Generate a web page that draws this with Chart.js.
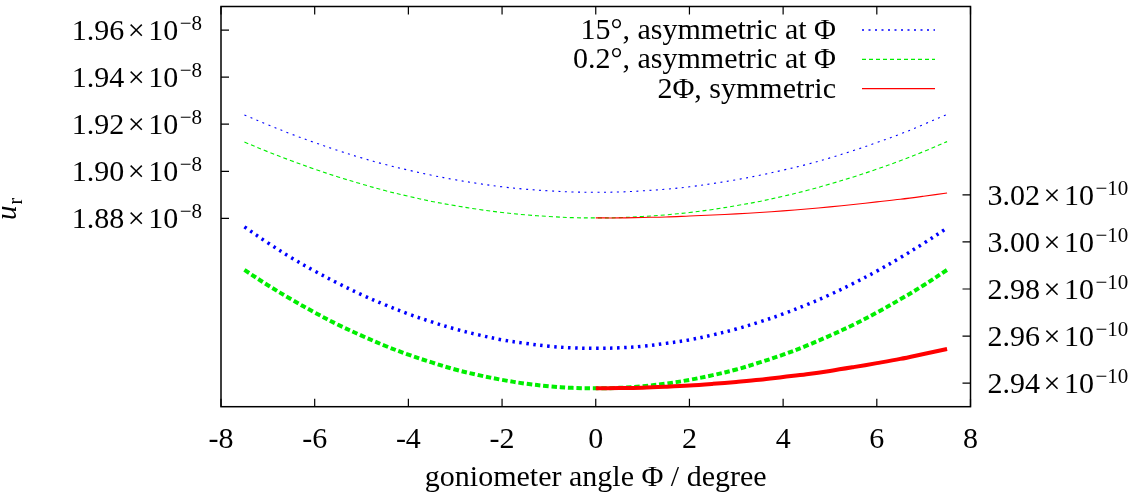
<!DOCTYPE html>
<html>
<head>
<meta charset="utf-8">
<script src="https://cdn.jsdelivr.net/npm/chart.js@4.4.1/dist/chart.umd.min.js"></script>
<style>
  html, body { margin: 0; padding: 0; background: #ffffff; }
  #wrap { width: 1141px; height: 495px; position: relative; }
</style>
</head>
<body>
<div id="wrap"><canvas id="c"></canvas></div>
<script>
// Goniometer angle in degrees
const angles = [-7.5, -7, -6.5, -6, -5.5, -5, -4.5, -4, -3.5, -3, -2.5, -2, -1.5, -1, -0.5, 0,
                0.5, 1, 1.5, 2, 2.5, 3, 3.5, 4, 4.5, 5, 5.5, 6, 6.5, 7, 7.5];
const anglesHalf = [0, 0.5, 1, 1.5, 2, 2.5, 3, 3.5, 4, 4.5, 5, 5.5, 6, 6.5, 7, 7.5];

// Upper family, left axis, values in units of 1e-8
const asym15Upper = [1.9239, 1.9198, 1.9158, 1.9122, 1.9088, 1.9057, 1.9029, 1.9005, 1.8983, 1.8964, 1.8948, 1.8934, 1.8924, 1.8917, 1.8912, 1.8911,
                     1.8912, 1.8917, 1.8924, 1.8934, 1.8948, 1.8964, 1.8983, 1.9005, 1.9029, 1.9057, 1.9088, 1.9122, 1.9158, 1.9199, 1.9242];
const asym02Upper = [1.9124, 1.9083, 1.9045, 1.9009, 1.8976, 1.8946, 1.8918, 1.8894, 1.8872, 1.8854, 1.8838, 1.8825, 1.8815, 1.8808, 1.8803, 1.8802,
                     1.8803, 1.8808, 1.8815, 1.8825, 1.8838, 1.8854, 1.8872, 1.8894, 1.8918, 1.8946, 1.8976, 1.9009, 1.9045, 1.9084, 1.9126];
const sym2PhiUpper = [1.8802, 1.8802, 1.8804, 1.8806, 1.8810, 1.8814, 1.8819, 1.8825, 1.8832, 1.8840, 1.8849, 1.8859, 1.8870, 1.8881, 1.8894, 1.8908];

// Lower family, right axis, values in units of 1e-10
const asym15Lower = [3.0064, 2.9996, 2.9933, 2.9876, 2.9824, 2.9776, 2.9733, 2.9694, 2.9660, 2.9630, 2.9605, 2.9584, 2.9569, 2.9557, 2.9550, 2.9548,
                     2.9550, 2.9557, 2.9569, 2.9584, 2.9605, 2.9630, 2.9660, 2.9694, 2.9733, 2.9776, 2.9824, 2.9876, 2.9933, 2.9994, 3.0059];
const asym02Lower = [2.9881, 2.9816, 2.9756, 2.9700, 2.9648, 2.9602, 2.9559, 2.9521, 2.9488, 2.9458, 2.9434, 2.9414, 2.9398, 2.9387, 2.9380, 2.9378,
                     2.9380, 2.9387, 2.9398, 2.9414, 2.9434, 2.9458, 2.9488, 2.9521, 2.9559, 2.9602, 2.9648, 2.9700, 2.9756, 2.9816, 2.9881];
const sym2PhiLower = [2.9378, 2.9379, 2.9381, 2.9385, 2.9390, 2.9397, 2.9405, 2.9414, 2.9426, 2.9438, 2.9452, 2.9468, 2.9485, 2.9503, 2.9524, 2.9545];

// Axis ticks
const xTicks = [-8, -6, -4, -2, 0, 2, 4, 6, 8];
const leftTicks = [1.88, 1.90, 1.92, 1.94, 1.96];
const rightTicks = [2.94, 2.96, 2.98, 3.00, 3.02];
const leftExponent = '−8';
const rightExponent = '−10';

const seriesNames = ['15°, asymmetric at Φ', '0.2°, asymmetric at Φ', '2Φ, symmetric'];
const xTitle = 'goniometer angle Φ / degree';

const SERIF = '"Liberation Serif", "DejaVu Serif", serif';
const FS = 30;
const BLUE = '#0000ff', GREEN = '#00ee00', RED = '#ff0000';

function pts(xs, ys) { return xs.map((x, i) => ({ x: x, y: ys[i] })); }

const datasets = [
  { label: seriesNames[2], data: pts(anglesHalf, sym2PhiUpper), yAxisID: 'yL', borderColor: RED, borderWidth: 1.1, key: true },
  { label: seriesNames[1], data: pts(angles, asym02Upper), yAxisID: 'yL', borderColor: GREEN, borderWidth: 1.1, borderDash: [4, 3], key: true },
  { label: seriesNames[0], data: pts(angles, asym15Upper), yAxisID: 'yL', borderColor: BLUE, borderWidth: 1.1, borderDash: [2, 4.5], key: true },
  { label: seriesNames[2], data: pts(anglesHalf, sym2PhiLower), yAxisID: 'yR', borderColor: RED, borderWidth: 4 },
  { label: seriesNames[1], data: pts(angles, asym02Lower), yAxisID: 'yR', borderColor: GREEN, borderWidth: 4, borderDash: [5.5, 2.8] },
  { label: seriesNames[0], data: pts(angles, asym15Lower), yAxisID: 'yR', borderColor: BLUE, borderWidth: 3.5, borderDash: [2.5, 4.5] }
].map(d => Object.assign({ pointRadius: 0, fill: false, tension: 0.35, borderCapStyle: 'butt' }, d));

// Scientific label: mantissa × 10^exp with a raised exponent
function drawSci(ctx, mant, exp, x, y, align) {
  const main = FS + 'px ' + SERIF, sup = '21px ' + SERIF;
  ctx.font = main;
  const wm = ctx.measureText(mant).width;
  const wx = ctx.measureText('×').width;
  const wt = ctx.measureText('10').width;
  ctx.font = sup;
  const we = ctx.measureText(exp).width;
  const gap = 3.5;
  const total = wm + gap + wx + gap + wt + 1.5 + we;
  let sx = align === 'right' ? x - total : x;
  const base = y + 10;
  ctx.textAlign = 'left';
  ctx.textBaseline = 'alphabetic';
  ctx.font = main;
  ctx.fillText(mant, sx, base); sx += wm + gap;
  ctx.fillText('×', sx, base); sx += wx + gap;
  ctx.fillText('10', sx, base); sx += wt + 1.5;
  ctx.font = sup;
  ctx.fillText(exp, sx, base - 10);
}

const framePlugin = {
  id: 'frame',
  afterDraw(chart) {
    const { ctx, chartArea: a, scales } = chart;
    const xs = scales.x, yL = scales.yL, yR = scales.yR;
    ctx.save();
    ctx.strokeStyle = '#000';
    ctx.fillStyle = '#000';
    ctx.lineWidth = 1.5;
    ctx.strokeRect(a.left, a.top, a.right - a.left, a.bottom - a.top);

    const tl = 8;
    ctx.lineWidth = 1.2;
    ctx.beginPath();
    xTicks.forEach(v => {
      const px = xs.getPixelForValue(v);
      ctx.moveTo(px, a.bottom); ctx.lineTo(px, a.bottom - tl);
      ctx.moveTo(px, a.top); ctx.lineTo(px, a.top + tl);
    });
    leftTicks.forEach(v => {
      const py = yL.getPixelForValue(v);
      ctx.moveTo(a.left, py); ctx.lineTo(a.left + tl, py);
    });
    rightTicks.forEach(v => {
      const py = yR.getPixelForValue(v);
      ctx.moveTo(a.right, py); ctx.lineTo(a.right - tl, py);
    });
    ctx.stroke();

    // tick labels
    ctx.font = FS + 'px ' + SERIF;
    ctx.textAlign = 'center';
    ctx.textBaseline = 'alphabetic';
    xTicks.forEach(v => {
      const px = xs.getPixelForValue(v);
      ctx.fillText(v < 0 ? '-' + Math.abs(v) : String(v), px, a.bottom + 41);
    });
    leftTicks.forEach(v => drawSci(ctx, v.toFixed(2), leftExponent, a.left - 19, yL.getPixelForValue(v), 'right'));
    rightTicks.forEach(v => drawSci(ctx, v.toFixed(2), rightExponent, a.right + 17, yR.getPixelForValue(v), 'left'));

    // axis titles
    ctx.font = FS + 'px ' + SERIF;
    ctx.textAlign = 'center';
    ctx.fillText(xTitle, (a.left + a.right) / 2, 486);

    ctx.save();
    ctx.translate(16, 209);
    ctx.rotate(-Math.PI / 2);
    ctx.textAlign = 'left';
    ctx.font = 'italic 29px ' + SERIF;
    const wu = ctx.measureText('u').width;
    ctx.font = '20px ' + SERIF;
    const wr = ctx.measureText('r').width;
    const sx = -(wu + 1 + wr) / 2;
    ctx.font = 'italic 29px ' + SERIF;
    ctx.fillText('u', sx, 0);
    ctx.font = '20px ' + SERIF;
    ctx.fillText('r', sx + wu + 1, 6);
    ctx.restore();

    // key, top right inside the frame
    const keyed = chart.data.datasets.filter(d => d.key);
    seriesNames.forEach((name, i) => {
      const d = keyed.find(k => k.label === name);
      const yLine = 30 + i * 29.3;
      ctx.font = FS + 'px ' + SERIF;
      ctx.textAlign = 'right';
      ctx.fillStyle = '#000';
      ctx.fillText(name, 836, yLine + 9);
      ctx.beginPath();
      ctx.strokeStyle = d.borderColor;
      ctx.lineWidth = 1.3;
      ctx.setLineDash(d.borderDash || []);
      ctx.moveTo(862, yLine); ctx.lineTo(935, yLine);
      ctx.stroke();
      ctx.setLineDash([]);
    });
    ctx.restore();
  }
};

new Chart(document.getElementById('c'), {
  type: 'line',
  data: { datasets: datasets },
  options: {
    responsive: true,
    maintainAspectRatio: false,
    animation: false,
    layout: { padding: { top: 6.5, left: 0, right: 0, bottom: 0 } },
    plugins: { legend: { display: false }, tooltip: { enabled: false } },
    scales: {
      x: {
        type: 'linear', min: -8, max: 8,
        grid: { display: false, drawTicks: false }, border: { display: false },
        ticks: { display: false },
        afterBuildTicks: s => { s.ticks = xTicks.map(v => ({ value: v })); },
        afterFit: s => { s.height = 88.3; }
      },
      yL: {
        type: 'linear', position: 'left', min: 1.80, max: 1.97,
        grid: { display: false, drawTicks: false }, border: { display: false },
        ticks: { display: false },
        afterBuildTicks: s => { s.ticks = leftTicks.map(v => ({ value: v })); },
        afterFit: s => { s.width = 221; }
      },
      yR: {
        type: 'linear', position: 'right', min: 2.93, max: 3.10,
        grid: { display: false, drawTicks: false }, border: { display: false },
        ticks: { display: false },
        afterBuildTicks: s => { s.ticks = rightTicks.map(v => ({ value: v })); },
        afterFit: s => { s.width = 170.5; }
      }
    }
  },
  plugins: [framePlugin]
});
</script>
</body>
</html>
